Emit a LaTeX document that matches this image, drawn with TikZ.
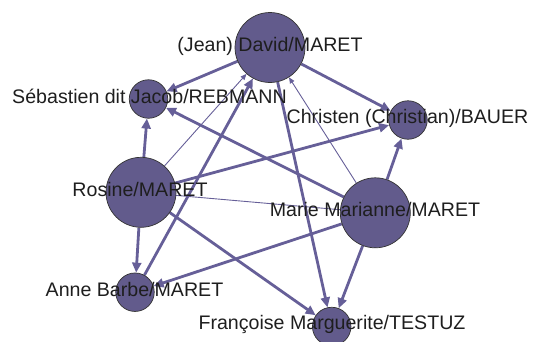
\documentclass[tikz,border=0pt]{standalone}
\usepackage{fontspec}
\setmainfont{Liberation Sans}
\usetikzlibrary{arrows.meta}
\pgfdeclarelayer{edgelayer}
\pgfdeclarelayer{textlayer}
\pgfsetlayers{edgelayer,main,textlayer}
\definecolor{nodefill}{RGB}{98,91,140}
\definecolor{edgecol}{RGB}{102,95,152}
\definecolor{labcol}{RGB}{30,30,30}
\tikzset{
  person/.style={circle, draw=black!80, line width=0.7pt, fill=nodefill, inner sep=0pt},
  bignode/.style={person, minimum size=70pt},
  smallnode/.style={person, minimum size=38.5pt},
  thickedge/.style={draw=edgecol, line width=2.8pt, -{Triangle[length=10pt,width=9pt]}},
  thinedge/.style={draw=edgecol, line width=0.9pt, -{Triangle[length=6pt,width=5pt]}},
  plainedge/.style={draw=edgecol, line width=0.9pt},
  lab/.style={anchor=base, inner sep=0pt, text=labcol, font=\fontsize{19.6}{22}\selectfont}
}
\begin{document}
\begin{tikzpicture}[x=1pt,y=-1pt]
\useasboundingbox (0,0) rectangle (533,341);
% nodes
\node[bignode]   (dav) at (270,47.5) {};
\node[smallnode] (seb) at (148.5,99) {};
\node[smallnode] (chr) at (408,120) {};
\node[bignode]   (ros) at (141,192.3) {};
\node[bignode]   (mar) at (375.3,212.8) {};
\node[smallnode] (ann) at (135,292.2) {};
\node[smallnode] (fra) at (331.7,326.5) {};
% edges (behind nodes)
\begin{pgfonlayer}{edgelayer}
\path[thickedge] (dav) -- (seb);
\path[thickedge] (dav) -- (chr);
\path[thickedge] (dav) -- (fra);
\path[thinedge]  (mar) -- (dav);
\path[thinedge]  (ros) -- (dav);
\path[thickedge] (ann) -- (dav);
\path[thickedge] (ros) -- (seb);
\path[thickedge] (mar) -- (seb);
\path[thickedge] (ros) -- (chr);
\path[thickedge] (mar) -- (chr);
\path[plainedge] (ros) -- (mar);
\path[thickedge] (ros) -- (ann);
\path[thickedge] (mar) -- (ann);
\path[thickedge] (ros) -- (fra);
\path[thickedge] (mar) -- (fra);
\end{pgfonlayer}
% labels
\begin{pgfonlayer}{textlayer}
\node[lab] (ldav) at (270,51.5) {(Jean) David/MARET};
\node[lab] (lseb) at (149.5,103.3) {Sébastien dit Jacob/REBMANN};
\node[lab] (lchr) at (407.5,123.5) {Christen (Christian)/BAUER};
\node[lab] (lros) at (140,196.7) {Rosine/MARET};
\node[lab] (lmar) at (375,216.7) {Marie Marianne/MARET};
\node[lab] (lann) at (134.5,296) {Anne Barbe/MARET};
\node[lab] (lfra) at (332,329.5) {Françoise Marguerite/TESTUZ};
\end{pgfonlayer}
\end{tikzpicture}
\end{document}
